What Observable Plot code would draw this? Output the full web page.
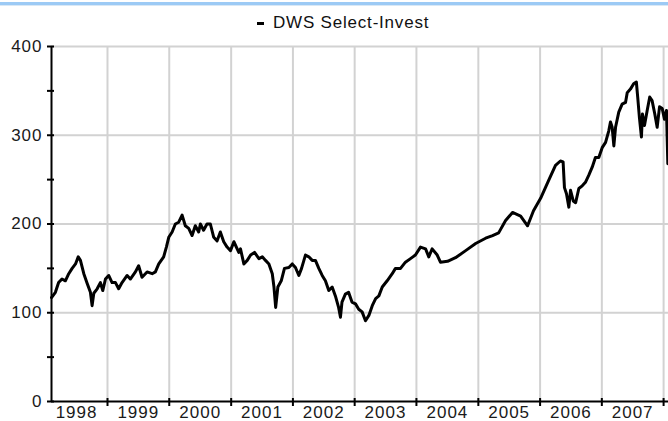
<!DOCTYPE html>
<html><head><meta charset="utf-8">
<script src="https://cdn.jsdelivr.net/npm/d3@7"></script>
<script src="https://cdn.jsdelivr.net/npm/@observablehq/plot@0.6"></script>
<style>
body{margin:0;background:#fff;width:668px;height:421px;overflow:hidden;position:relative;font-family:"Liberation Sans",Arial,sans-serif}
#bar{position:absolute;left:0;top:2px;width:668px;height:3px;background:#9ccaf5;border-bottom:1px solid #d8e8f6}
#legend{position:absolute;left:257px;top:12px;font-size:17px;line-height:22px;letter-spacing:0.8px;color:#111;display:flex;align-items:center;white-space:nowrap}
#legend .sw{display:inline-block;width:7px;height:3px;background:#000;margin-right:9px}
#chart{position:absolute;left:0;top:36px}
#chart svg text{letter-spacing:1px}
</style></head><body>
<div id="bar"></div>
<div id="legend"><span class="sw"></span><span>DWS Select-Invest</span></div>
<div id="chart"></div>
<script>
const seriesName = "DWS Select-Invest";
const dates = [
"1998-02-04","1998-02-27","1998-03-18","1998-04-07","1998-04-27","1998-05-17","1998-06-06","1998-06-26","1998-07-12","1998-07-25",
"1998-08-14","1998-09-03","1998-09-22","1998-10-02","1998-10-12","1998-11-01","1998-11-20","1998-12-04","1998-12-20","1999-01-08",
"1999-01-28","1999-02-17","1999-03-08","1999-03-28","1999-04-27","1999-05-16","1999-06-15","1999-07-04","1999-07-24","1999-08-23",
"1999-09-22","1999-10-11","1999-10-31","1999-11-29","1999-12-15","1999-12-29","2000-01-18","2000-02-06","2000-02-26","2000-03-17",
"2000-04-05","2000-04-25","2000-05-15","2000-06-03","2000-06-23","2000-07-03","2000-07-22","2000-08-11","2000-08-31","2000-09-20",
"2000-10-10","2000-10-29","2000-11-18","2000-12-08","2000-12-28","2001-01-17","2001-02-15","2001-02-25","2001-03-17","2001-04-06",
"2001-04-26","2001-05-19","2001-06-14","2001-07-04","2001-07-23","2001-08-12","2001-09-01","2001-09-11","2001-09-21","2001-10-04",
"2001-10-24","2001-11-12","2001-12-08","2001-12-28","2002-01-16","2002-02-05","2002-02-21","2002-03-16","2002-04-05","2002-04-25",
"2002-05-14","2002-06-03","2002-06-23","2002-07-12","2002-08-01","2002-08-21","2002-09-09","2002-09-28","2002-10-09","2002-10-18",
"2002-11-07","2002-11-26","2002-12-16","2003-01-06","2003-01-25","2003-02-14","2003-03-06","2003-03-26","2003-04-15","2003-05-05",
"2003-05-24","2003-06-13","2003-07-12","2003-08-11","2003-08-30","2003-09-29","2003-10-28","2003-11-27","2003-12-26","2004-01-25",
"2004-02-24","2004-03-14","2004-04-03","2004-05-03","2004-05-22","2004-07-03","2004-08-19","2004-10-18","2004-12-16","2005-02-13",
"2005-03-26","2005-05-01","2005-06-11","2005-07-22","2005-09-08","2005-10-19","2005-11-23","2006-01-04","2006-02-20","2006-04-02",
"2006-05-01","2006-05-17","2006-05-25","2006-06-06","2006-06-20","2006-06-30","2006-07-16","2006-07-30","2006-08-18","2006-09-07",
"2006-09-26","2006-10-16","2006-11-05","2006-11-24","2006-12-14","2007-01-03","2007-01-23","2007-02-11","2007-02-21","2007-03-03",
"2007-03-13","2007-03-23","2007-04-11","2007-05-01","2007-05-21","2007-05-31","2007-06-19","2007-07-08","2007-07-24","2007-08-01",
"2007-08-11","2007-08-23","2007-08-29","2007-09-10","2007-09-26","2007-10-11","2007-10-25","2007-11-10","2007-11-24","2007-12-08",
"2007-12-24","2008-01-06","2008-01-18","2008-01-26"
];
const values = [
117,123,134,138,136,144,150,155,163,159,
144,133,123,108,122,127,134,125,138,142,
134,134,127,134,142,138,146,153,140,146,
144,146,155,163,174,185,191,200,202,210,
198,195,187,198,191,200,193,200,200,185,
181,191,180,174,170,180,168,172,155,159,
165,168,161,163,159,155,144,129,106,129,
136,150,151,155,151,142,150,165,163,159,
159,150,142,136,125,129,119,106,95,112,
121,123,112,110,104,101,91,97,108,116,
119,129,136,144,150,150,157,161,165,174,
172,163,172,165,157,158,162,170,178,184,
187,190,204,213,209,198,215,229,249,266,
271,270,241,234,219,238,226,224,240,243,
247,255,264,275,275,286,292,305,315,309,
288,309,326,335,337,348,352,358,360,343,
320,298,324,311,328,343,339,324,309,332,
330,318,328,268
];
const yearStarts = ["1999","2000","2001","2002","2003","2004","2005","2006","2007","2008"];
const yearLabels = ["1998","1999","2000","2001","2002","2003","2004","2005","2006","2007"];
const yMajor = [0,100,200,300,400];
const yMinor = [50,150,250,350];
const yGrid = [100,200,300,400];

const data = dates.map((d,i)=>({date:new Date(d), value:values[i]}));
const xStart = new Date("1998-02-04"), xEnd = new Date("2008-01-30");
const ys = yearStarts.map(y=>new Date(y+"-01-01"));

const chart = Plot.plot({
  width:668, height:385, marginTop:10, marginBottom:20, marginLeft:51, marginRight:0,
  style:{fontFamily:"Liberation Sans, Arial, sans-serif", fontSize:"17px", background:"white", overflow:"visible", color:"#1a1a1a"},
  x:{type:"utc", domain:[xStart,xEnd], axis:null},
  y:{domain:[0,400], axis:null},
  marks:[
    Plot.ruleY(yGrid, {stroke:"#d2d2d2", strokeWidth:2}),
    Plot.ruleX(ys, {stroke:"#d2d2d2", strokeWidth:2}),
    Plot.ruleX([xStart], {stroke:"#000", strokeWidth:2}),
    Plot.ruleY([0], {stroke:"#000", strokeWidth:2}),
    Plot.ruleY(yMajor.concat(yMinor), {x1:xStart, x2:xStart, insetLeft:-4, insetRight:-3, stroke:"#000", strokeWidth:2}),
    Plot.ruleX(ys, {y1:0, y2:0, insetTop:-3, insetBottom:-5, stroke:"#000", strokeWidth:2}),
    Plot.line(data, {x:"date", y:"value", stroke:"#000", strokeWidth:3}),
    Plot.text(yMajor, {x:xStart, y:d=>d, text:d=>String(d), textAnchor:"end", dx:-9, fill:"#1a1a1a"}),
    Plot.text(yearLabels, {x:d=>new Date(d+"-07-02"), y:0, text:d=>d, dy:11, fill:"#1a1a1a"})
  ]
});
document.getElementById("chart").appendChild(chart);
</script>
</body></html>
